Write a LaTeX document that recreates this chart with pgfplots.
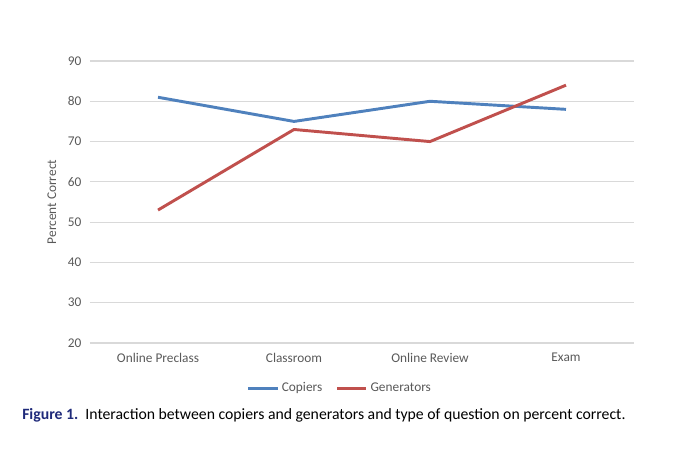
\documentclass[border=0pt]{standalone}
\usepackage{pgfplots}
\pgfplotsset{compat=1.18}
\usepackage{fontspec}
\setmainfont{Carlito}
\usetikzlibrary{calc}
\definecolor{cblue}{HTML}{4F81BD}
\definecolor{cred}{HTML}{C0504D}
\definecolor{tickgray}{HTML}{595959}
\definecolor{gridgray}{HTML}{D9D9D9}
\definecolor{capblue}{HTML}{1F2A7A}
\begin{document}
\begin{tikzpicture}[x=0.75pt,y=0.75pt]
\begin{axis}[
  name=ax,
  scale only axis, width=408pt, height=211.5pt,
  xmin=-0.5, xmax=3.5, ymin=20, ymax=90,
  ytick={20,30,...,90},
  xtick={0,1,2,3},
  xticklabels={Online Preclass,Classroom,Online Review,Exam},
  axis line style={draw=none},
  major tick length=0pt,
  ymajorgrids, grid style={gridgray, line width=0.9pt},
  tick label style={font=\fontsize{10pt}{12pt}\selectfont, text=tickgray},
  /pgf/number format/assume math mode=true,
  ylabel={Percent Correct},
  ylabel style={font=\fontsize{10pt}{12pt}\selectfont, text=tickgray, at={(axis description cs:-0.07,0.5)}, anchor=center},
  yticklabel style={xshift=-3pt},
  xticklabel style={yshift=-4pt},
  legend columns=2,
  legend style={draw=none, at={(axis description cs:0.46,-0.16)}, anchor=center, font=\fontsize{10pt}{12pt}\selectfont, text=tickgray, /tikz/every even column/.append style={column sep=8pt}},
  legend image code/.code={\draw[#1] (0pt,0pt) -- (22pt,0pt);},
]
\addplot[cblue, line width=2.2pt, line join=round] coordinates {(0,81) (1,75) (2,80) (3,78)};
\addlegendentry{Copiers}
\addplot[cred, line width=2.2pt, line join=round] coordinates {(0,53) (1,73) (2,70) (3,84)};
\addlegendentry{Generators}
\end{axis}
\pgfresetboundingbox
\path[use as bounding box] ($(ax.south west)+(-90,-117)$) rectangle ++(680,460);
\node[anchor=west, font=\fontsize{11.8pt}{14pt}\selectfont, inner sep=0pt] at ($(ax.south west)+(-68,-72)$) {\textcolor{capblue}{\textbf{Figure 1.}}\ \ Interaction between copiers and generators and type of question on percent correct.};
\end{tikzpicture}
\end{document}
